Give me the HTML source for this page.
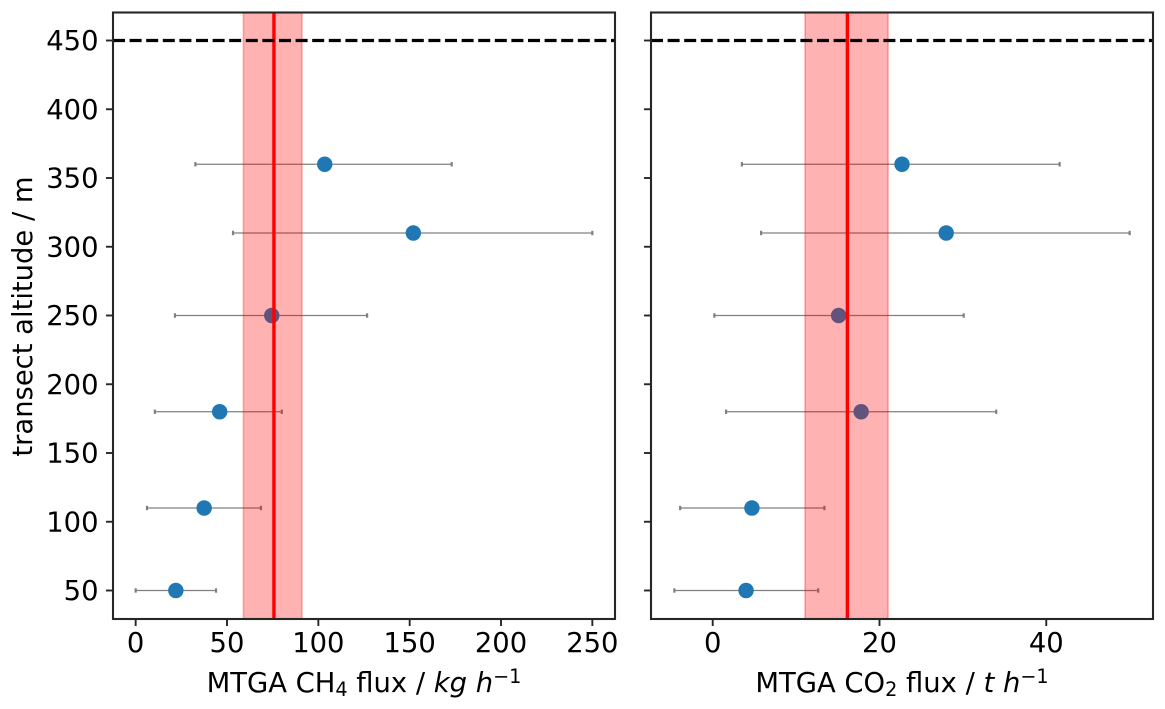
<!DOCTYPE html>
<html lang="en">
<head>
<meta charset="utf-8">
<title>MTGA flux by transect altitude</title>
<style>
html,body{margin:0;padding:0;background:#fff;width:1165px;height:709px;overflow:hidden}
svg{display:block}
text{font-family:"DejaVu Sans","Liberation Sans",sans-serif;fill:#000}
.tick{font-size:27.4px}
.title{font-size:27.4px}
.it{font-style:italic}
</style>
</head>
<body>
<svg id="chart" xmlns="http://www.w3.org/2000/svg" width="1165" height="709" viewBox="0 0 1165 709">
<rect width="1165" height="709" fill="#fff"/>
<g id="panel-ch4"></g>
<g id="panel-co2"></g>
<text class="title" transform="translate(32,316.5) rotate(-90)" text-anchor="middle">transect altitude / m</text>
<text class="title" x="364" y="692" text-anchor="middle">MTGA CH<tspan font-size="19.2" dy="4">4</tspan><tspan dy="-4"> flux / </tspan><tspan class="it">kg h</tspan><tspan font-size="19.2" dy="-9">−1</tspan></text>
<text class="title" x="902" y="692" text-anchor="middle">MTGA CO<tspan font-size="19.2" dy="4">2</tspan><tspan dy="-4"> flux / </tspan><tspan class="it">t h</tspan><tspan font-size="19.2" dy="-9">−1</tspan></text>
</svg>
<script>
const altitudes = [50, 110, 180, 250, 310, 360];
const yTicks = [50, 100, 150, 200, 250, 300, 350, 400, 450];
const yTickLabels = ['50', '100', '150', '200', '250', '300', '350', '400', '450'];
const refAltitude = [450];

const ch4Flux = [22, 37.5, 46, 74.5, 152, 103.5];
const ch4Low = [0, 6.2, 10.5, 21.5, 53.3, 32.7];
const ch4High = [44, 68.6, 80, 126.7, 250, 173];
const ch4Mean = [75.7];
const ch4Band = [59, 91];
const ch4Ticks = [0, 50, 100, 150, 200, 250];
const ch4TickLabels = ['0', '50', '100', '150', '200', '250'];
const ch4Limits = [-12.4, 262.4];

const co2Flux = [4, 4.7, 17.8, 15.1, 28, 22.7];
const co2Low = [-4.6, -3.9, 1.6, 0.2, 5.8, 3.5];
const co2High = [12.65, 13.4, 34, 30.1, 50, 41.6];
const co2Mean = [16.15];
const co2Band = [11.07, 21.03];
const co2Ticks = [0, 20, 40];
const co2TickLabels = ['0', '20', '40'];
const co2Limits = [-7.4, 52.8];

const NS = 'http://www.w3.org/2000/svg';
const plotTop = 12.5, plotBottom = 619, plotWidth = 502;

function yScale(v) {
  return 590.5 - (v - 50) * 1.375;
}

function make(parent, tag, attrs) {
  const el = document.createElementNS(NS, tag);
  for (const k in attrs) el.setAttribute(k, attrs[k]);
  parent.appendChild(el);
  return el;
}

function drawPanel(group, left, limits, flux, low, high, mean, band, ticks, tickLabels, showYLabels) {
  const right = left + plotWidth;
  const xScale = v => left + (v - limits[0]) / (limits[1] - limits[0]) * plotWidth;

  // error bars and points sit beneath the translucent band
  altitudes.forEach((alt, i) => {
    const y = yScale(alt);
    const bar = make(group, 'line', {x1: xScale(low[i]), x2: xScale(high[i]), y1: y, y2: y, stroke: '#808080', 'stroke-width': 1.15});
    
    
    [low[i], high[i]].forEach(v => {
      const cap = make(group, 'line', {x1: xScale(v), x2: xScale(v), y1: y - 2.2, y2: y + 2.2, stroke: '#808080', 'stroke-width': 2.2});
      
      
    });
    const pt = make(group, 'circle', {cx: xScale(flux[i]), cy: y, r: 7.7, fill: '#1f77b4'});
    
    
  });

  const spread = make(group, 'rect', {x: xScale(band[0]), y: plotTop, width: xScale(band[1]) - xScale(band[0]), height: plotBottom - plotTop, fill: 'rgb(255,0,0)', 'fill-opacity': 0.3, stroke: 'rgb(255,0,0)', 'stroke-opacity': 0.3, 'stroke-width': 1.6});
  
  

  const meanLine = make(group, 'line', {x1: xScale(mean[0]), x2: xScale(mean[0]), y1: plotTop, y2: plotBottom, stroke: '#f00', 'stroke-width': 3.4});
  
  

  const refY = yScale(refAltitude[0]);
  const refLine = make(group, 'line', {x1: left, x2: right, y1: refY, y2: refY, stroke: '#000', 'stroke-width': 3.2, 'stroke-dasharray': '12 4.6'});
  
  

  yTicks.forEach((t, i) => {
    const y = yScale(t);
    const tick = make(group, 'line', {x1: left - 7, x2: left, y1: y, y2: y, stroke: '#262626', 'stroke-width': 1.9});
    
    
    if (showYLabels) {
      const label = make(group, 'text', {x: left - 14.5, y: y + 9.7, 'text-anchor': 'end', class: 'tick'});
      
      
      label.textContent = yTickLabels[i];
    }
  });

  ticks.forEach((t, i) => {
    const x = xScale(t);
    const tick = make(group, 'line', {x1: x, x2: x, y1: plotBottom, y2: plotBottom + 7, stroke: '#262626', 'stroke-width': 1.9});
    
    
    const label = make(group, 'text', {x: x, y: 652, 'text-anchor': 'middle', class: 'tick'});
    
    
    label.textContent = tickLabels[i];
  });

  const frame = make(group, 'rect', {x: left, y: plotTop, width: plotWidth, height: plotBottom - plotTop, fill: 'none', stroke: '#262626', 'stroke-width': 2.1});
  
  
}

drawPanel(document.getElementById('panel-ch4'), 113, ch4Limits, ch4Flux, ch4Low, ch4High, ch4Mean, ch4Band, ch4Ticks, ch4TickLabels, true);
drawPanel(document.getElementById('panel-co2'), 651, co2Limits, co2Flux, co2Low, co2High, co2Mean, co2Band, co2Ticks, co2TickLabels, false);
</script>
</body>
</html>
